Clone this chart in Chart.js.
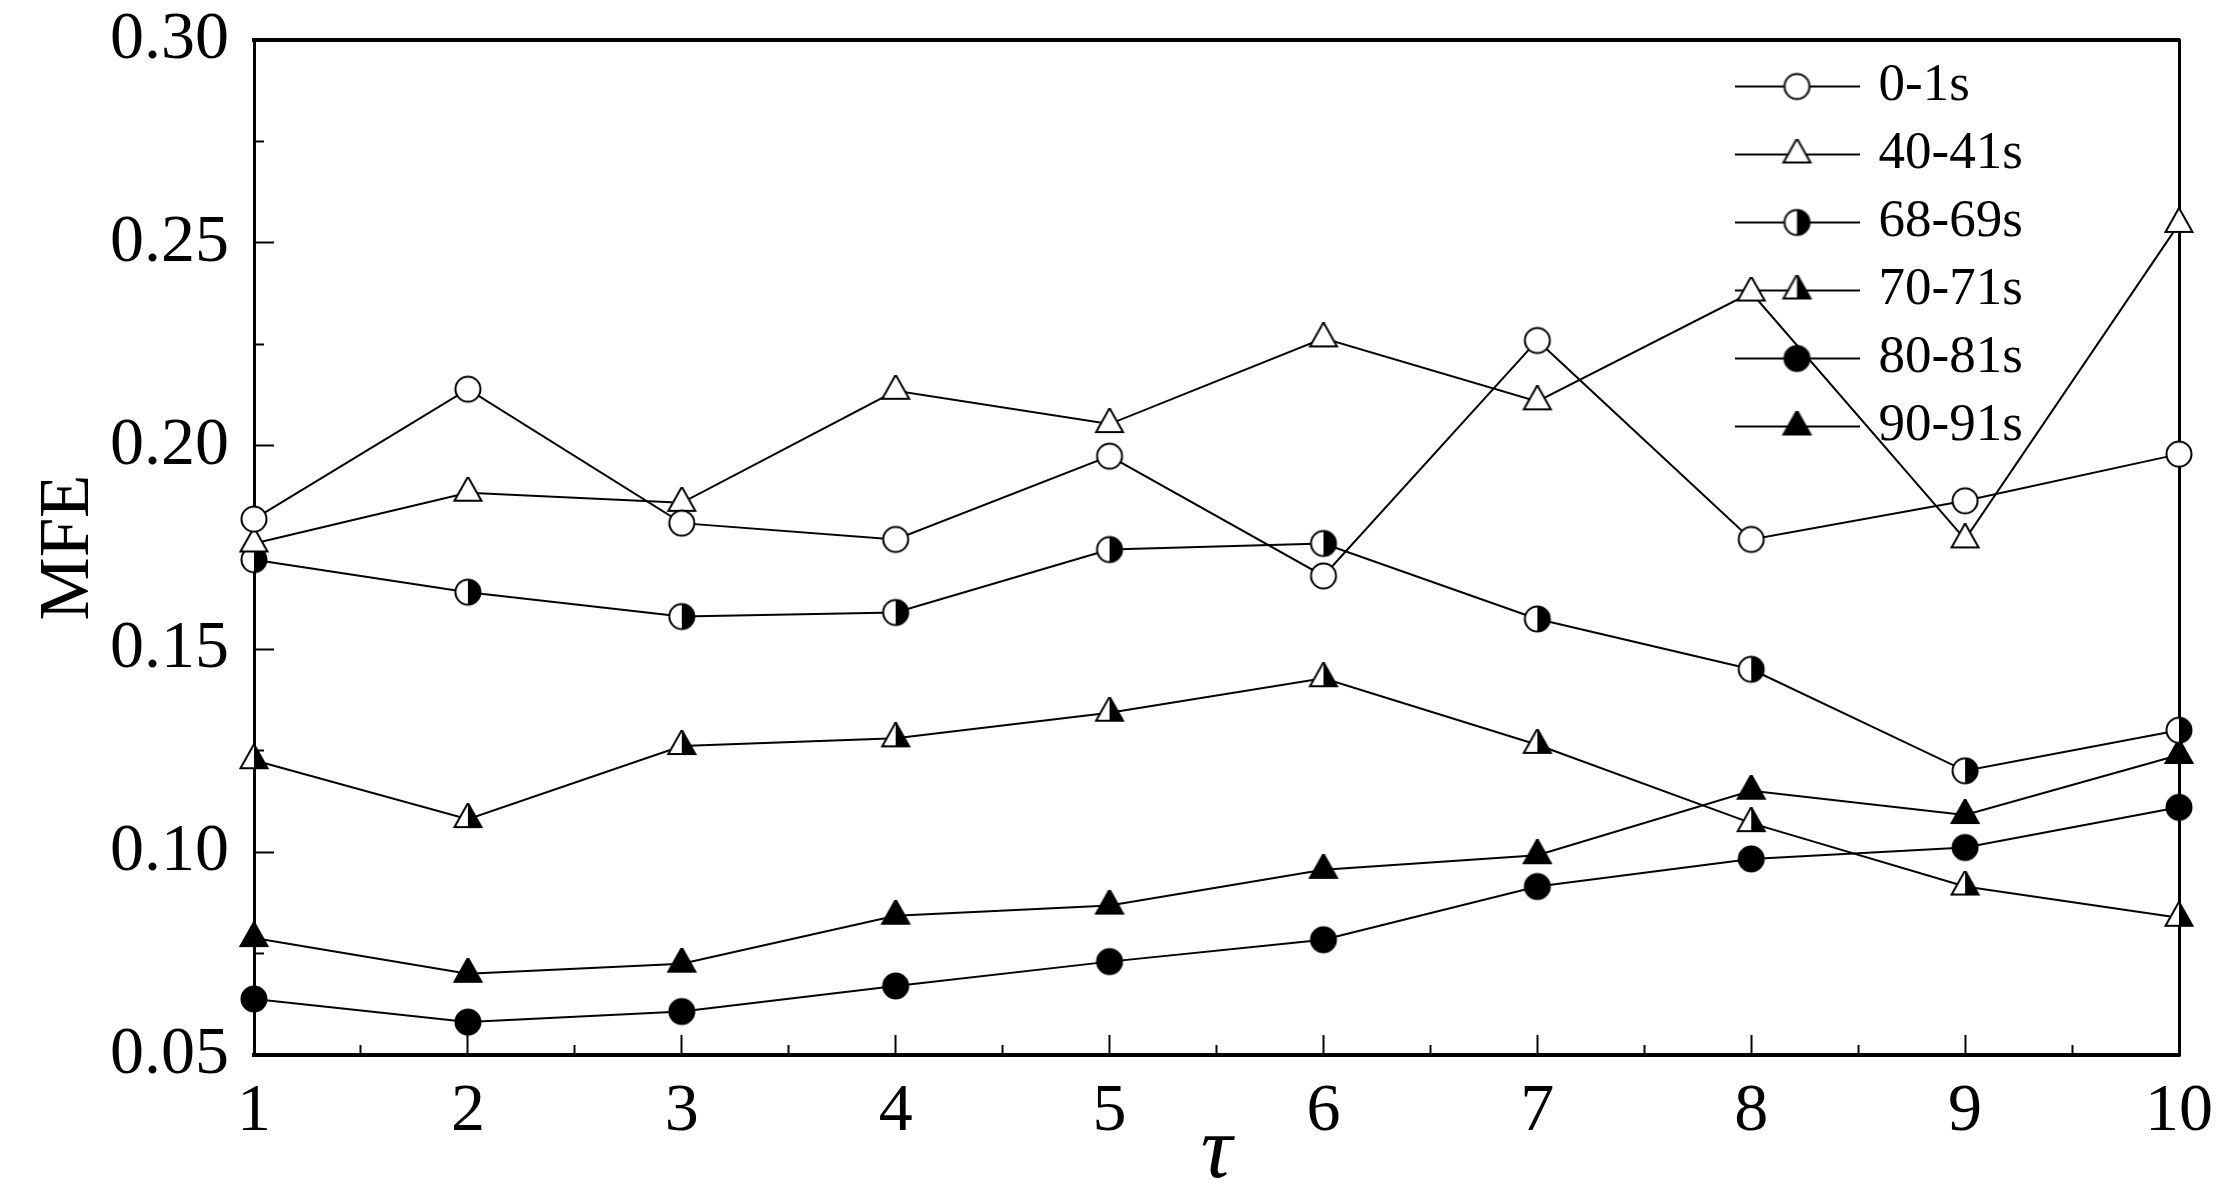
<!DOCTYPE html>
<html>
<head>
<meta charset="utf-8">
<script src="https://cdn.jsdelivr.net/npm/chart.js@4.4.1/dist/chart.umd.min.js"></script>
<style>
  body { margin: 0; background: #fff; }
  canvas { display: block; }
</style>
</head>
<body>
<canvas id="mfeChart" width="2233" height="1200"></canvas>
<script>
// tau (scale factor) and tick values
var tau = [1, 2, 3, 4, 5, 6, 7, 8, 9, 10];
var yTicks = [0.05, 0.10, 0.15, 0.20, 0.25, 0.30];
var seriesNames = ['0-1s', '40-41s', '68-69s', '70-71s', '80-81s', '90-91s'];

// MFE values
var mfe_0_1 = [0.182, 0.214, 0.181, 0.177, 0.1975, 0.168, 0.226, 0.177, 0.1865, 0.198];
var mfe_40_41 = [0.176, 0.1885, 0.186, 0.2136, 0.2054, 0.2265, 0.211, 0.2378, 0.177, 0.2547];
var mfe_68_69 = [0.172, 0.164, 0.158, 0.159, 0.1745, 0.176, 0.1574, 0.145, 0.120, 0.130];
var mfe_70_71 = [0.1226, 0.1081, 0.1261, 0.128, 0.1343, 0.1428, 0.1264, 0.1071, 0.0915, 0.0838];
var mfe_80_81 = [0.0638, 0.0581, 0.0607, 0.067, 0.073, 0.0784, 0.0915, 0.0983, 0.1011, 0.111];
var mfe_90_91 = [0.0788, 0.070, 0.0725, 0.0843, 0.0868, 0.0956, 0.0992, 0.1151, 0.1091, 0.1239];

var seriesValues = [mfe_0_1, mfe_40_41, mfe_68_69, mfe_70_71, mfe_80_81, mfe_90_91];
// marker shape / fill per series
var markerShapes = [['circle', 'open'], ['triangle', 'open'], ['circle', 'half'],
                    ['triangle', 'half'], ['circle', 'full'], ['triangle', 'full']];

var FONT = 'Liberation Serif';
Chart.defaults.font.family = FONT;
Chart.defaults.color = '#000';

function makeMarker(shape, fill) {
    var c = document.createElement('canvas');
    c.width = 32; c.height = 32;
    var g = c.getContext('2d');
    var cx = 16, cy = 16;
    g.lineWidth = 2;
    g.strokeStyle = '#000';
    if (shape === 'circle') {
        var r = 12.5;
        g.beginPath(); g.arc(cx, cy, r, 0, Math.PI * 2);
        g.fillStyle = fill === 'full' ? '#000' : '#fff';
        g.fill();
        if (fill === 'half') {
            g.beginPath(); g.arc(cx, cy, r, -Math.PI / 2, Math.PI / 2); g.closePath();
            g.fillStyle = '#000'; g.fill();
        }
        g.beginPath(); g.arc(cx, cy, r, 0, Math.PI * 2); g.stroke();
    } else {
        var h = 24, w = 27;
        var top = cy - h * 2 / 3, bot = cy + h / 3;
        g.beginPath();
        g.moveTo(cx, top); g.lineTo(cx + w / 2, bot); g.lineTo(cx - w / 2, bot); g.closePath();
        g.fillStyle = fill === 'full' ? '#000' : '#fff';
        g.fill();
        if (fill === 'half') {
            g.beginPath();
            g.moveTo(cx, top); g.lineTo(cx + w / 2, bot); g.lineTo(cx, bot); g.closePath();
            g.fillStyle = '#000'; g.fill();
        }
        g.beginPath();
        g.moveTo(cx, top); g.lineTo(cx + w / 2, bot); g.lineTo(cx - w / 2, bot); g.closePath();
        g.stroke();
    }
    return c;
}

function makeLegendIcon(mark) {
    var c = document.createElement('canvas');
    c.width = 125; c.height = 32;
    var g = c.getContext('2d');
    g.strokeStyle = '#000'; g.lineWidth = 2;
    g.beginPath(); g.moveTo(0, 16); g.lineTo(125, 16); g.stroke();
    g.drawImage(mark, 62.5 - 16, 0);
    return c;
}

// adds the half-way minor ticks between the labelled ones
function withMinor(arr) {
    var out = [];
    arr.forEach(function (v, i) {
        if (i > 0) out.push((arr[i - 1] + v) / 2);
        out.push(v);
    });
    return out;
}

var markers = markerShapes.map(function (m) { return makeMarker(m[0], m[1]); });
var legendIcons = markers.map(makeLegendIcon);

var datasets = seriesValues.map(function (vals, i) {
    return {
        label: seriesNames[i],
        data: tau.map(function (t, j) { return { x: t, y: vals[j] }; }),
        borderColor: '#000',
        borderWidth: 2,
        backgroundColor: '#000',
        pointStyle: markers[i],
        pointRadius: 12,
        pointHoverRadius: 12,
        tension: 0,
        fill: false,
        clip: false
    };
});

// move the legend inside the plot, top right
var legendPlace = {
    id: 'legendPlace',
    afterLayout: function (chart) {
        var lg = chart.legend, a = chart.chartArea;
        lg.left = a.right - 452;
        lg.top = a.top + 5;
        lg.right = a.right;
        lg.bottom = a.bottom;
        lg.width = lg.right - lg.left;
        lg.height = lg.bottom - lg.top;
    }
};

var ctx = document.getElementById('mfeChart');
var myChart = new Chart(ctx, {
    type: 'line',
    data: { datasets: datasets },
    plugins: [legendPlace],
    options: {
        responsive: false,
        animation: false,
        devicePixelRatio: 1,
        layout: { padding: { top: 40, right: 54, left: 0, bottom: 0 } },
        plugins: {
            tooltip: { enabled: false },
            legend: {
                position: 'chartArea',
                align: 'start',
                labels: {
                    usePointStyle: true,
                    pointStyleWidth: 110,
                    padding: 15,
                    color: '#000',
                    font: { family: FONT, size: 53 },
                    generateLabels: function (chart) {
                        return chart.data.datasets.map(function (ds, i) {
                            return {
                                text: ds.label,
                                pointStyle: legendIcons[i],
                                fillStyle: '#000',
                                strokeStyle: '#000',
                                lineWidth: 1,
                                hidden: false,
                                datasetIndex: i
                            };
                        });
                    }
                }
            }
        },
        scales: {
            x: {
                type: 'linear',
                position: 'bottom',
                min: tau[0],
                max: tau[tau.length - 1],
                weight: 1,
                afterFit: function (s) {
                    s.height = 145;
                    s.paddingLeft = 0;
                    s.paddingRight = 0;
                },
                afterBuildTicks: function (s) {
                    s.ticks = withMinor(tau).map(function (v) { return { value: v }; });
                },
                ticks: {
                    autoSkip: false,
                    maxRotation: 0,
                    padding: 36,
                    color: '#000',
                    font: { family: FONT, size: 68 },
                    callback: function (v) { return tau.indexOf(v) >= 0 ? String(v) : ''; }
                },
                grid: {
                    drawOnChartArea: false,
                    tickLength: -20,
                    tickWidth: 2,
                    tickColor: '#000',
                    tickBorderDash: function (c) {
                        return (c.tick && tau.indexOf(c.tick.value) < 0) ? [12, 1000] : [];
                    }
                },
                border: { color: '#000', width: 4 },
                title: {
                    display: true,
                    text: 'τ',
                    color: '#000',
                    font: { family: FONT, size: 88, style: 'italic' },
                    padding: { top: 0, bottom: -7 }
                }
            },
            xTop: {
                type: 'linear',
                position: 'top',
                min: tau[0],
                max: tau[tau.length - 1],
                afterFit: function (s) { s.height = 0; },
                ticks: { display: false },
                grid: { display: false, drawTicks: false },
                border: { color: '#000', width: 4 }
            },
            y: {
                type: 'linear',
                position: 'left',
                min: yTicks[0],
                max: yTicks[yTicks.length - 1],
                afterFit: function (s) {
                    s.width = 254;
                    s.paddingTop = 0;
                    s.paddingBottom = 0;
                },
                afterBuildTicks: function (s) {
                    s.ticks = withMinor(yTicks).map(function (v) { return { value: v }; });
                },
                ticks: {
                    autoSkip: false,
                    padding: 45,
                    color: '#000',
                    font: { family: FONT, size: 68 },
                    callback: function (v) { return yTicks.indexOf(v) >= 0 ? v.toFixed(2) : ''; }
                },
                grid: {
                    drawOnChartArea: false,
                    tickLength: -20,
                    tickWidth: 2,
                    tickColor: '#000',
                    tickBorderDash: function (c) {
                        return (c.tick && yTicks.indexOf(c.tick.value) < 0) ? [0, 10, 12, 1000] : [];
                    }
                },
                border: { color: '#000', width: 3 },
                title: {
                    display: true,
                    text: 'MFE',
                    color: '#000',
                    font: { family: FONT, size: 71 },
                    padding: { top: 27 }
                }
            },
            yRight: {
                type: 'linear',
                position: 'right',
                min: yTicks[0],
                max: yTicks[yTicks.length - 1],
                afterFit: function (s) { s.width = 0; },
                ticks: { display: false },
                grid: { display: false, drawTicks: false },
                border: { color: '#000', width: 3 }
            }
        }
    }
});
</script>
</body>
</html>
